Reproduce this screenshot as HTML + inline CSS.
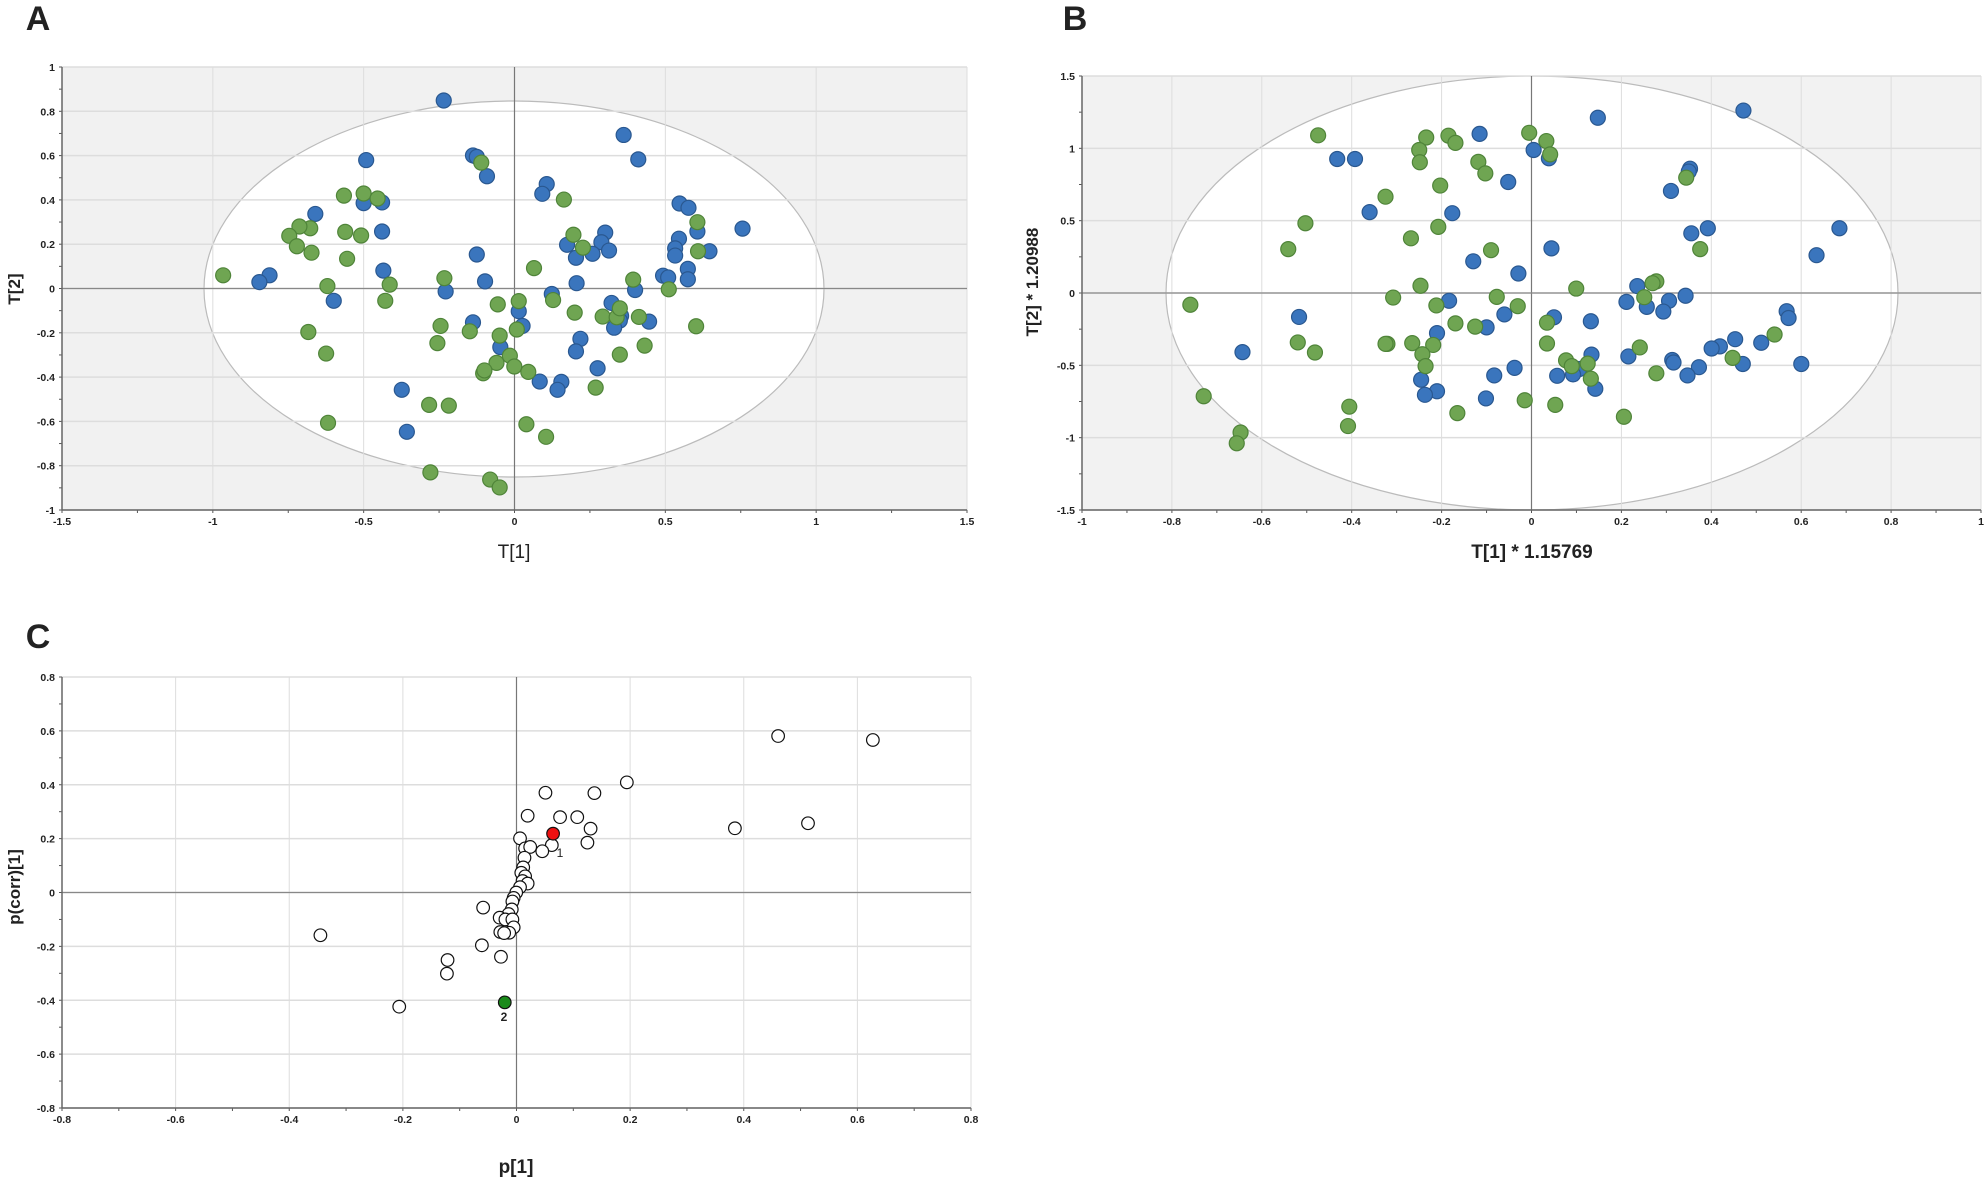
<!DOCTYPE html>
<html><head><meta charset="utf-8"><style>
html,body{margin:0;padding:0;background:#fff;width:1984px;height:1180px;overflow:hidden}
svg{display:block;font-family:"Liberation Sans",sans-serif}
</style></head><body>
<svg id="s" width="1984" height="1180" xmlns="http://www.w3.org/2000/svg"></svg>
<script>
const S=document.getElementById('s');let h='';
const fx=1.573,fy=2.786;
function txt(x,y,t,o){o=o||{};h+=`<text x="${x}" y="${y}" font-size="${o.fs||11}" font-weight="${o.fw||'bold'}" text-anchor="${o.a||'middle'}" fill="#222" ${o.tr?`transform="${o.tr}"`:''}>${t}</text>`;}
// Panel letters
txt(38,30,'A',{fs:34,a:'middle'});txt(1075,30,'B',{fs:34});txt(38,648,'C',{fs:34});

function panel(P){
 const {L,R,T,B,x0,x1,y0,y1}=P;
 const X=v=>L+(v-x0)/(x1-x0)*(R-L), Y=v=>B-(v-y0)/(y1-y0)*(B-T);
 h+=`<defs><clipPath id="c${P.id}"><rect x="${L}" y="${T}" width="${R-L}" height="${B-T}"/></clipPath></defs>`;
 h+=`<rect x="${L}" y="${T}" width="${R-L}" height="${B-T}" fill="${P.bg}"/>`;
 if(P.ell) h+=`<ellipse cx="${P.ell[0]}" cy="${P.ell[1]}" rx="${P.ell[2]}" ry="${P.ell[3]}" fill="#fff" stroke="#bbb" stroke-width="1.2" clip-path="url(#c${P.id})"/>`;
 for(let v=x0;v<=x1+1e-9;v+=P.gx){const x=X(v);h+=`<line x1="${x}" y1="${T}" x2="${x}" y2="${B}" stroke="#ddd" stroke-width="1"/>`;txt(x,B+15,(+v.toFixed(2)).toString(),{fs:10.5});}
 for(let v=y0;v<=y1+1e-9;v+=P.gy){const y=Y(v);h+=`<line x1="${L}" y1="${y}" x2="${R}" y2="${y}" stroke="#ddd" stroke-width="1.5"/>`;txt(L-7,y+4,(+v.toFixed(2)).toString(),{fs:10.5,a:'end'});}
 // minor ticks
 for(let v=x0;v<=x1+1e-9;v+=P.gx/2){h+=`<line x1="${X(v)}" y1="${B}" x2="${X(v)}" y2="${B+3}" stroke="#555"/>`;}
 for(let v=y0;v<=y1+1e-9;v+=P.gy/2){h+=`<line x1="${L-3}" y1="${Y(v)}" x2="${L}" y2="${Y(v)}" stroke="#555"/>`;}
 h+=`<line x1="${X(0)}" y1="${T}" x2="${X(0)}" y2="${B}" stroke="#777" stroke-width="1.2"/>`;
 h+=`<line x1="${L}" y1="${Y(0)}" x2="${R}" y2="${Y(0)}" stroke="#888" stroke-width="1.2"/>`;
 h+=`<line x1="${L}" y1="${T}" x2="${L}" y2="${B}" stroke="#666" stroke-width="1.5"/>`;
 h+=`<line x1="${L}" y1="${B}" x2="${R}" y2="${B}" stroke="#666" stroke-width="1.5"/>`;
}
// Panel A
panel({id:'a',L:62,R:967,T:67,B:510,x0:-1.5,x1:1.5,y0:-1,y1:1,gx:0.5,gy:0.2,bg:'#f1f1f1',ell:[514,289,310,188]});
txt(514,558,'T[1]',{fs:19,fw:'normal'});txt(20,289,'T[2]',{fs:17,tr:'rotate(-90 20 289)'});
// Panel B
panel({id:'b',L:1082,R:1981,T:76,B:510,x0:-1,x1:1,y0:-1.5,y1:1.5,gx:0.2,gy:0.5,bg:'#f2f2f2',ell:[1532,293,366,217]});
txt(1532,558,'T[1] * 1.15769',{fs:19});txt(1038,282,'T[2] * 1.20988',{fs:17,tr:'rotate(-90 1038 282)'});
// Panel C
panel({id:'c',L:62,R:971,T:677,B:1108,x0:-0.8,x1:0.8,y0:-0.8,y1:0.8,gx:0.2,gy:0.2,bg:'#fff'});
txt(516,1173,'p[1]',{fs:19});txt(20,887,'p(corr)[1]',{fs:17,tr:'rotate(-90 20 887)'});

function dot(zx,zy,ox,oy,f,s,r){h+=`<circle cx="${ox+zx/fx}" cy="${oy+zy/fy}" r="${r}" fill="${f}" stroke="${s}" stroke-width="1.2"/>`;}
const BL='#3a75bd',BS='#2a5890',GR='#6fa552',GS='#4f8439';
const Ab=[[698,280],[981,376],[1004,444],[576,446],[744,433],[750,437],[766,491],[860,513],[853,540],[1069,567],[1083,579],[572,566],[601,564],[496,596],[601,645],[952,648],[946,675],[892,682],[958,698],[932,707],[906,718],[1168,637],[1097,645],[1068,665],[1062,692],[1116,700],[1062,712],[750,709],[603,754],[424,767],[408,786],[763,784],[907,789],[1043,768],[1051,773],[1082,749],[1082,778],[999,808],[701,812],[525,838],[868,819],[816,867],[962,844],[977,880],[975,893],[966,913],[1021,896],[744,898],[822,908],[913,944],[906,979],[787,967],[940,1026],[849,1063],[883,1064],[877,1086],[632,1086],[640,1203]];
const Ag=[[757,453],[887,556],[541,545],[572,539],[594,553],[488,636],[471,631],[455,657],[467,686],[490,704],[543,646],[568,656],[546,721],[840,747],[902,654],[917,690],[1097,619],[1098,700],[351,767],[515,797],[613,793],[699,775],[996,779],[1052,806],[606,838],[870,836],[816,839],[783,848],[904,871],[948,882],[970,884],[975,859],[1005,883],[1095,909],[693,908],[739,923],[813,918],[786,935],[485,925],[688,956],[513,985],[975,988],[1014,963],[802,991],[781,1011],[809,1021],[831,1036],[760,1040],[762,1032],[937,1080],[675,1128],[706,1130],[516,1178],[828,1182],[859,1217],[677,1316],[771,1336],[786,1358]];
const Bb=[[1182,308],[953,328],[767,373],[852,418],[876,441],[543,443],[571,443],[1098,470],[1096,478],[812,507],[1068,532],[594,591],[724,594],[1126,636],[1100,650],[1333,636],[1297,711],[880,692],[757,728],[828,762],[1015,797],[1091,824],[998,841],[1065,838],[1030,855],[1056,868],[719,838],[483,883],[806,876],[884,884],[942,895],[778,912],[700,928],[394,981],[1250,867],[1253,886],[1210,955],[1169,945],[1145,965],[1132,971],[1001,993],[943,988],[1070,1003],[1072,1010],[1112,1023],[1181,1014],[1273,1014],[822,1025],[924,1028],[914,1043],[889,1047],[790,1046],[675,1058],[1094,1046],[949,1083],[700,1090],[681,1100],[777,1110]];
const Bg=[[513,377],[683,383],[718,378],[729,398],[672,418],[673,452],[845,370],[872,393],[878,430],[765,451],[776,483],[705,517],[619,548],[493,622],[702,632],[659,664],[466,694],[785,697],[1114,694],[1092,495],[674,796],[631,829],[699,851],[794,827],[827,853],[919,804],[1045,784],[1039,789],[1026,828],[312,849],[481,954],[508,982],[622,958],[619,958],[661,956],[694,961],[677,987],[682,1020],[760,910],[729,901],[873,899],[873,957],[903,1004],[912,1020],[937,1013],[942,1055],[1019,968],[1045,1040],[1165,997],[1231,932],[333,1104],[562,1133],[560,1187],[391,1205],[385,1235],[732,1151],[838,1115],[886,1128],[994,1161]];
Ab.forEach(p=>dot(p[0],p[1],0,0,BL,BS,7.5));Ag.forEach(p=>dot(p[0],p[1],0,0,GR,GS,7.5));
Bb.forEach(p=>dot(p[0],p[1],992,0,BL,BS,7.5));Bg.forEach(p=>dot(p[0],p[1],992,0,GR,GS,7.5));
const C=[[1224,379],[1373,390],[986,508],[858,537],[935,538],[830,601],[881,605],[908,605],[929,637],[1156,636],[1271,622],[818,664],[924,676],[868,683],[853,700],[826,692],[834,688],[825,718],[823,745],[820,760],[826,770],[822,783],[830,790],[818,800],[812,815],[808,830],[806,840],[760,857],[805,862],[800,875],[786,885],[795,890],[806,890],[808,912],[787,925],[801,927],[793,928],[758,962],[788,994],[704,1003],[703,1041],[504,934],[628,1133]];
C.forEach(p=>dot(p[0],p[1],0,600,'#fff','#111',6.3));
dot(870,651,0,600,'#ee1111','#111',6.3);dot(794,1121,0,600,'#1a8a1a','#111',6.3);
txt(560,857,'1',{fs:12,fw:'normal'});txt(504,1021,'2',{fs:12});
S.innerHTML=h;
</script>
</body></html>
